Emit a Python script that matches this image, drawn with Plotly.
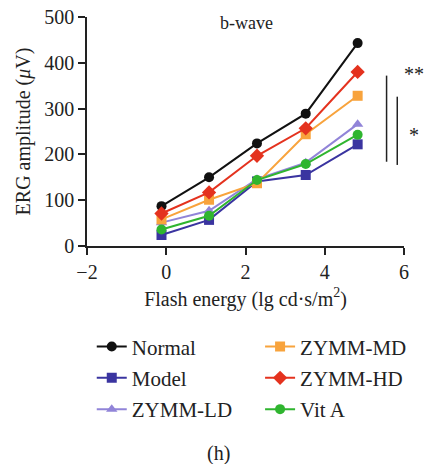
import plotly.graph_objects as go

# ---- data ----
flash_energy = [-0.12, 1.08, 2.29, 3.52, 4.83]
normal = [87, 150, 224, 289, 443]
model = [24, 57, 141, 155, 222]
zymm_ld = [51, 77, 146, 182, 266]
zymm_md = [58, 101, 137, 244, 328]
zymm_hd = [71, 117, 197, 257, 380]
vit_a = [36, 66, 144, 179, 243]

series_names = ["Normal", "Model", "ZYMM-LD", "ZYMM-MD", "ZYMM-HD", "Vit A"]
series_values = [normal, model, zymm_ld, zymm_md, zymm_hd, vit_a]
x_ticks = [-2, 0, 2, 4, 6]
y_ticks = [0, 100, 200, 300, 400, 500]

# significance brackets: x, y_low, y_high ; labels placed beside them
sig_bars = [(5.56, 184, 372), (5.83, 177, 326)]
sig_labels = ["**", "*"]

# ---- styles ----
colors = ["#111111", "#3a34a0", "#9184d8", "#f8a33c", "#e4321e", "#2fb52f"]
symbols = ["circle", "square", "triangle-up", "square", "diamond", "circle"]
legend_ids = ["legend", "legend", "legend", "legend2", "legend2", "legend2"]
FONT = "Liberation Serif"
TXT = "#222222"

fig = go.Figure()
for i, (name, vals) in enumerate(zip(series_names, series_values)):
    fig.add_trace(go.Scatter(
        x=flash_energy, y=vals, name=name, mode="lines+markers",
        line=dict(color=colors[i], width=2),
        marker=dict(symbol=symbols[i], size=10 if symbols[i] != "diamond" else 11,
                    color=colors[i]),
        legend=legend_ids[i], legendgroup=name,
        cliponaxis=False,
    ))

shapes = []
for xb, y0, y1 in sig_bars:
    shapes.append(dict(type="line", xref="x", yref="y", x0=xb, x1=xb, y0=y0, y1=y1,
                       line=dict(color=TXT, width=1.5)))

annotations = [
    dict(xref="paper", yref="paper", x=1.03, y=0.752, text=sig_labels[0], showarrow=False,
         xanchor="center", yanchor="middle", font=dict(family=FONT, size=20, color=TXT)),
    dict(xref="paper", yref="paper", x=1.03, y=0.484, text=sig_labels[1], showarrow=False,
         xanchor="center", yanchor="middle", font=dict(family=FONT, size=20, color=TXT)),
    dict(xref="paper", yref="paper", x=0.502, y=0.975, text="b-wave", showarrow=False,
         xanchor="center", yanchor="middle", font=dict(family=FONT, size=18, color=TXT)),
    dict(xref="paper", yref="paper", x=0.414, y=-0.904, text="(h)", showarrow=False,
         xanchor="center", yanchor="middle", font=dict(family=FONT, size=20, color=TXT)),
]

axis_common = dict(showgrid=False, zeroline=False, showline=True, linecolor=TXT,
                   linewidth=1.5, ticks="outside", ticklen=7, tickwidth=1.5,
                   tickcolor=TXT, automargin=False, ticklabeloverflow="allow",
                   tickfont=dict(family=FONT, size=20, color=TXT))

fig.update_layout(
    width=424, height=464,
    margin=dict(l=87, r=18, t=17, b=218),
    plot_bgcolor="white", paper_bgcolor="white",
    xaxis=dict(range=[-2, 6], tickvals=x_ticks,
               ticktext=["\u22122" if v < 0 else str(v) for v in x_ticks],
               title=dict(text="Flash energy (lg cd\u00b7s/m<sup>2</sup>)", standoff=10,
                          font=dict(family=FONT, size=20, color=TXT)),
               **axis_common),
    yaxis=dict(range=[0, 500], tickvals=y_ticks,
               title=dict(text="ERG amplitude (<i>\u03bc</i>V)", standoff=8,
                          font=dict(family=FONT, size=20, color=TXT)),
               **axis_common),
    shapes=shapes,
    annotations=annotations,
    legend=dict(x=0.015, y=-0.351, xanchor="left", yanchor="top", tracegroupgap=1,
                font=dict(family=FONT, size=21, color=TXT), bgcolor="rgba(0,0,0,0)"),
    legend2=dict(x=0.546, y=-0.351, xanchor="left", yanchor="top", tracegroupgap=1,
                 font=dict(family=FONT, size=21, color=TXT), bgcolor="rgba(0,0,0,0)"),
)

# remove the browser's default 8px body margin so the figure fills the window
fig.write_html("out.html", config={"displayModeBar": False},
               post_script="document.body.style.margin='0px';document.body.style.overflow='hidden';")
